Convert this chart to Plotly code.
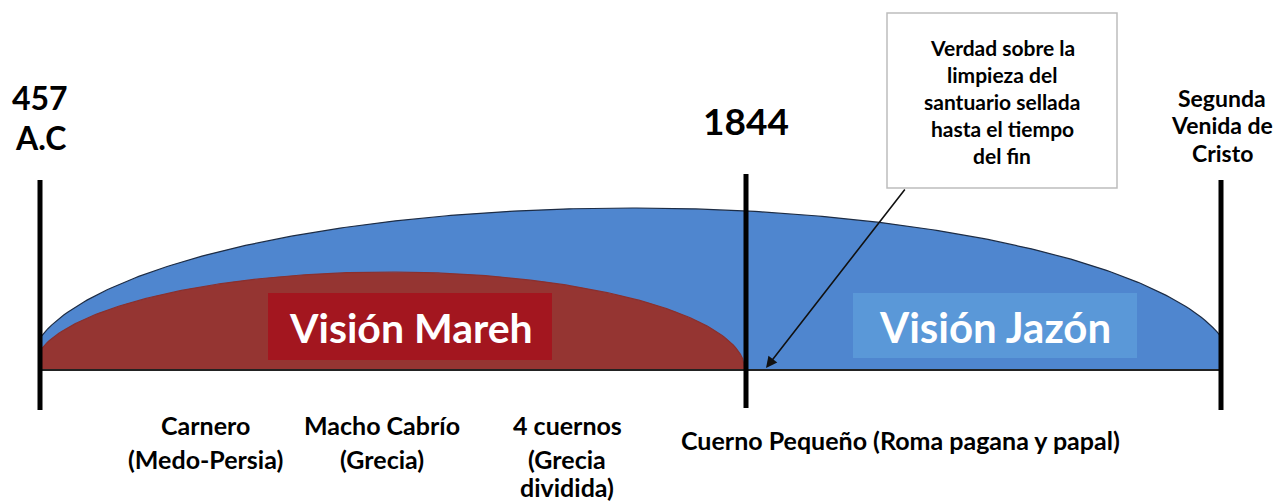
import numpy as np
import plotly.graph_objects as go

# ---- data (diagram units: x = horizontal position, y = height above baseline) ----
marker_x = [40, 746, 1221]
marker_top = [190, 196, 190]
marker_bottom = [-40, -38, -40]
marker_label_lines = [["457", "A.C"], ["1844"], ["Segunda", "Venida de", "Cristo"]]
marker_label_y = [[273, 233], [250], [272, 245, 217]]
marker_label_size = [32, 37, 23]

vision_names = ["Visión Jazón", "Visión Mareh"]
vision_center = [631, 389]
vision_halfwidth = [603, 356]
vision_height = [162, 98]
vision_clip = [(40, 1221), (40, 746)]
vision_colors = ["#4f86cf", "#953532"]
vision_edge = ["#1d2c44", "#8a302e"]

period_lines = [["Carnero", "(Medo-Persia)"], ["Macho Cabrío", "(Grecia)"],
                ["4 cuernos", "(Grecia", "dividida)"], ["Cuerno Pequeño (Roma pagana y papal)"]]
period_x = [205, 382, 567, 900]
period_y = [[-55, -89], [-55, -89], [-55, -89, -117], [-70]]

callout_lines = ["Verdad sobre la", "limpieza del", "santuario sellada", "hasta el tiempo", "del fin"]
callout_y = [323, 296, 269, 242, 215]

FONT = "Lato"

fig = go.Figure()

# arcs
for name, cx, a, b, (x0, x1), col, edge in zip(vision_names, vision_center, vision_halfwidth,
                                                vision_height, vision_clip, vision_colors, vision_edge):
    xs = np.linspace(x0, min(x1, cx + a), 300)
    ys = b * np.sqrt(np.clip(1 - ((xs - cx) / a) ** 2, 0, None))
    px = np.concatenate([[x0], xs, [xs[-1], x0]])
    py = np.concatenate([[0], ys, [0, 0]])
    fig.add_trace(go.Scatter(x=px, y=py, mode="lines", fill="toself", fillcolor=col,
                             line=dict(color=col, width=0), hoverinfo="skip", showlegend=False))
    fig.add_trace(go.Scatter(x=xs, y=ys, mode="lines", line=dict(color=edge, width=1.2),
                             hoverinfo="skip", showlegend=False))

# baseline
fig.add_shape(type="line", x0=marker_x[0], x1=marker_x[-1], y0=0, y1=0,
              line=dict(color="#222222", width=2))

# vertical markers
for x, t, bt in zip(marker_x, marker_top, marker_bottom):
    fig.add_shape(type="line", x0=x, x1=x, y0=bt, y1=t, line=dict(color="black", width=5))

# vision label boxes
fig.add_shape(type="rect", x0=268, x1=552, y0=10, y1=77, fillcolor="#a3161f", line=dict(width=0))
fig.add_shape(type="rect", x0=853, x1=1137, y0=12, y1=77, fillcolor="#5a98d8", line=dict(width=0))
fig.add_annotation(x=411, y=43, text="<b>Visión Mareh</b>", showarrow=False,
                   font=dict(family=FONT, size=41, color="white"))
fig.add_annotation(x=995, y=43, text="<b>Visión Jazón</b>", showarrow=False,
                   font=dict(family=FONT, size=42, color="white"))

# marker labels
for x, lines, ys, sz in zip(marker_x, marker_label_lines, marker_label_y, marker_label_size):
    for t, y in zip(lines, ys):
        fig.add_annotation(x=x + (1 if sz < 25 else 0), y=y, text="<b>" + t + "</b>", showarrow=False,
                           font=dict(family=FONT, size=sz, color="black"))

# callout box
fig.add_shape(type="rect", x0=887, x1=1117, y0=182, y1=357, fillcolor="white",
              line=dict(color="#bdbdbd", width=1.5))
for t, y in zip(callout_lines, callout_y):
    fig.add_annotation(x=1002, y=y, text="<b>" + t + "</b>", showarrow=False,
                       font=dict(family=FONT, size=21, color="black"))
fig.add_annotation(x=766, y=2, ax=906, ay=182, xref="x", yref="y", axref="x", ayref="y",
                   text="", showarrow=True, arrowhead=2, arrowsize=1.4, arrowwidth=1.6,
                   arrowcolor="#111111")

# period labels
for lines, x, ys in zip(period_lines, period_x, period_y):
    for t, y in zip(lines, ys):
        fig.add_annotation(x=x, y=y, text="<b>" + t + "</b>", showarrow=False,
                           font=dict(family=FONT, size=25, color="black"))

fig.update_xaxes(range=[0, 1277], visible=False, fixedrange=True)
fig.update_yaxes(range=[-134, 370], visible=False, fixedrange=True)
fig.update_layout(width=1277, height=504, margin=dict(l=0, r=0, t=0, b=0),
                  plot_bgcolor="white", paper_bgcolor="white", showlegend=False)

fig.write_html("out.html", config={"displayModeBar": False},
               post_script="document.body.style.margin='0';document.body.style.overflow='hidden';")
